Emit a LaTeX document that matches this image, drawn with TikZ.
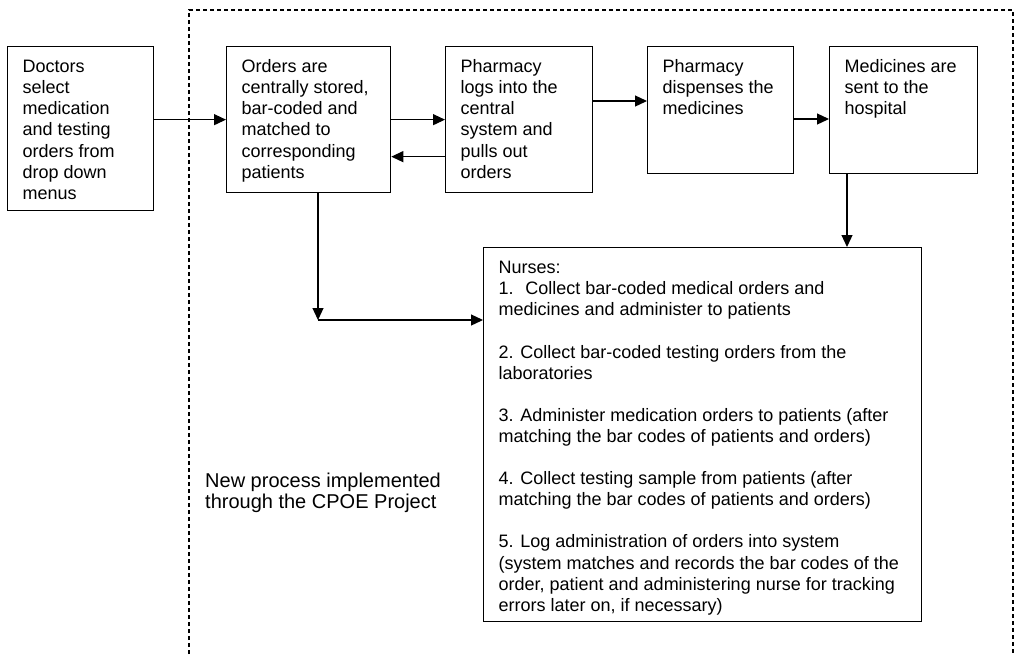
\documentclass[tikz,border=0pt]{standalone}
\usepackage{fontspec}
\setmainfont{Liberation Sans}
\usetikzlibrary{arrows.meta}
\newcommand{\steptext}[3]{\parbox[t][#2][t]{#1}{\raggedright\rule{0pt}{26pt}#3}}
\tikzset{
  stepbox/.style={draw,line width=1.3pt,anchor=north west,inner xsep=15pt,inner ysep=0pt},
  flow/.style={draw,line width=1.2pt,-{Triangle[length=12pt,width=11pt]}},
  frame/.style={draw,line width=1.1pt,dash pattern=on 4pt off 3pt}
}

\begin{document}
\begin{tikzpicture}[x=1pt,y=-1pt,font=\fontsize{18}{21.1}\selectfont]
  \useasboundingbox (0,0) rectangle (1014,654);
  % dashed region of the new process
  \draw[frame] (189,654) -- (189,10) -- (1013,10) -- (1013,654);
  \node[anchor=north west,inner sep=0pt,align=left,font=\fontsize{20}{21.4}\selectfont] (note) at (205,472.5)
    {New process implemented\\through the CPOE Project};

  \node[stepbox] (doctors) at (7,46) {\steptext{116pt}{164pt}{Doctors\\select\\medication\\and testing\\orders from\\drop down\\menus}};
  \node[stepbox] (orders) at (226,46) {\steptext{134pt}{146pt}{Orders are\\centrally stored,\\bar-coded and\\matched to\\corresponding\\patients}};
  \node[stepbox] (logs) at (445,46) {\steptext{117pt}{146pt}{Pharmacy\\logs into the\\central\\system and\\pulls out\\orders}};
  \node[stepbox] (dispense) at (647,46) {\steptext{116pt}{127pt}{Pharmacy\\dispenses the\\medicines}};
  \node[stepbox] (sent) at (829,46) {\steptext{118pt}{127pt}{Medicines are\\sent to the\\hospital}};
  \node[stepbox] (nurses) at (483,247) {\steptext{408pt}{374pt}{Nurses:\\
    1.~ Collect bar-coded medical orders and\\medicines and administer to patients\\[21.1pt]
    2. Collect bar-coded testing orders from the\\laboratories\\[21.1pt]
    3. Administer medication orders to patients (after\\matching the bar codes of patients and orders)\\[21.1pt]
    4. Collect testing sample from patients (after\\matching the bar codes of patients and orders)\\[21.1pt]
    5. Log administration of orders into system\\(system matches and records the bar codes of the\\order, patient and administering nurse for tracking\\errors later on, if necessary)}};

  \coordinate (bend) at (318,320);

  \draw[flow] (doctors.east |- orders.west) -- (orders.west);
  \draw[flow] (orders.east) -- (logs.west);
  \draw[flow] ([yshift=-37pt]logs.west) -- ([yshift=-37pt]orders.east);
  \draw[flow] ([yshift=-55pt]logs.north east) -- ([yshift=-55pt]dispense.north west);
  \draw[flow] ([yshift=-73pt]dispense.north east) -- ([yshift=-73pt]sent.north west);
  \draw[flow] ([xshift=18pt]sent.south west) -- ([xshift=18pt]sent.south west |- nurses.north);
  \draw[flow] (orders.south west -| bend) -- (bend);
  \draw[flow] (bend) -- (bend -| nurses.west);
\end{tikzpicture}
\end{document}
